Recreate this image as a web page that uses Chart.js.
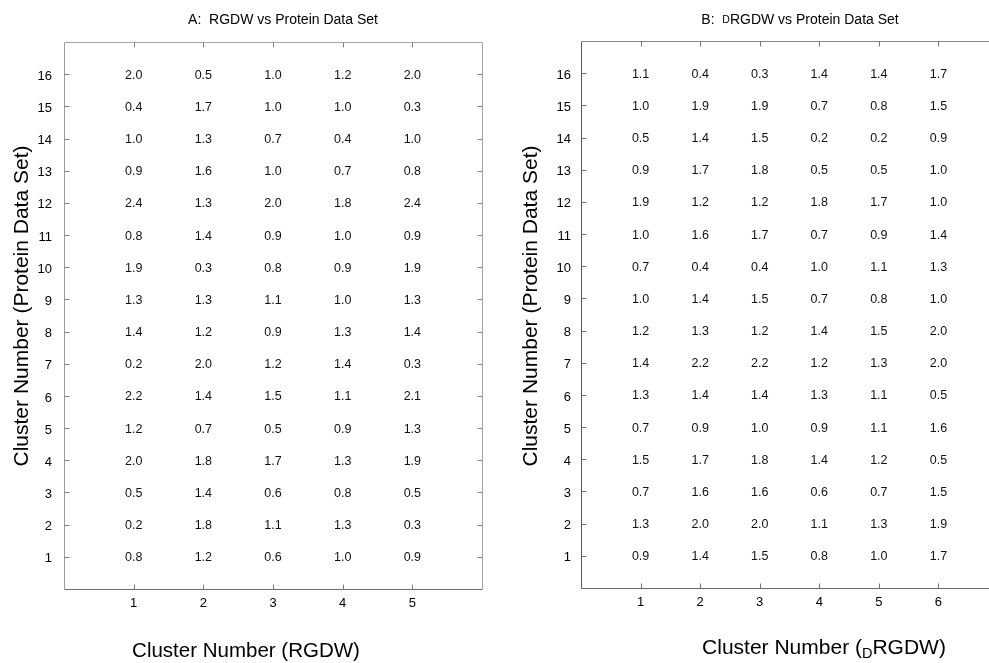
<!DOCTYPE html>
<html>
<head>
<meta charset="utf-8">
<title>RGDW / DRGDW vs Protein Data Set</title>
<script src="https://cdn.jsdelivr.net/npm/chart.js@4.4.1/dist/chart.umd.min.js"></script>
<style>
  html, body { margin: 0; padding: 0; background: #fff; overflow: hidden; }
  body { width: 989px; height: 663px; position: relative; }
  canvas { position: absolute; top: 0; }
  #chartA { left: 0; }
  #chartB { left: 500px; }
</style>
</head>
<body>
<canvas id="chartA" width="495" height="663"></canvas>
<canvas id="chartB" width="520" height="663"></canvas>
<script>
// ---------- data ----------
// protein data set cluster numbers (rows, bottom to top)
const proteinClusters = [1, 2, 3, 4, 5, 6, 7, 8, 9, 10, 11, 12, 13, 14, 15, 16];

// A: RGDW clusters (columns), values for protein clusters 1..16
const rgdwClusters = [1, 2, 3, 4, 5];
const rgdw1 = [0.8, 0.2, 0.5, 2.0, 1.2, 2.2, 0.2, 1.4, 1.3, 1.9, 0.8, 2.4, 0.9, 1.0, 0.4, 2.0];
const rgdw2 = [1.2, 1.8, 1.4, 1.8, 0.7, 1.4, 2.0, 1.2, 1.3, 0.3, 1.4, 1.3, 1.6, 1.3, 1.7, 0.5];
const rgdw3 = [0.6, 1.1, 0.6, 1.7, 0.5, 1.5, 1.2, 0.9, 1.1, 0.8, 0.9, 2.0, 1.0, 0.7, 1.0, 1.0];
const rgdw4 = [1.0, 1.3, 0.8, 1.3, 0.9, 1.1, 1.4, 1.3, 1.0, 0.9, 1.0, 1.8, 0.7, 0.4, 1.0, 1.2];
const rgdw5 = [0.9, 0.3, 0.5, 1.9, 1.3, 2.1, 0.3, 1.4, 1.3, 1.9, 0.9, 2.4, 0.8, 1.0, 0.3, 2.0];

// B: dRGDW clusters (columns), values for protein clusters 1..16
const drgdwClusters = [1, 2, 3, 4, 5, 6];
const drgdw1 = [0.9, 1.3, 0.7, 1.5, 0.7, 1.3, 1.4, 1.2, 1.0, 0.7, 1.0, 1.9, 0.9, 0.5, 1.0, 1.1];
const drgdw2 = [1.4, 2.0, 1.6, 1.7, 0.9, 1.4, 2.2, 1.3, 1.4, 0.4, 1.6, 1.2, 1.7, 1.4, 1.9, 0.4];
const drgdw3 = [1.5, 2.0, 1.6, 1.8, 1.0, 1.4, 2.2, 1.2, 1.5, 0.4, 1.7, 1.2, 1.8, 1.5, 1.9, 0.3];
const drgdw4 = [0.8, 1.1, 0.6, 1.4, 0.9, 1.3, 1.2, 1.4, 0.7, 1.0, 0.7, 1.8, 0.5, 0.2, 0.7, 1.4];
const drgdw5 = [1.0, 1.3, 0.7, 1.2, 1.1, 1.1, 1.3, 1.5, 0.8, 1.1, 0.9, 1.7, 0.5, 0.2, 0.8, 1.4];
const drgdw6 = [1.7, 1.9, 1.5, 0.5, 1.6, 0.5, 2.0, 2.0, 1.0, 1.3, 1.4, 1.0, 1.0, 0.9, 1.5, 1.7];

const FONT = "'Liberation Sans', Arial, Helvetica, sans-serif";

// ---------- helpers ----------
function buildCells(cols, series) {
  const pts = [];
  cols.forEach((c, ci) => {
    proteinClusters.forEach((r, ri) => {
      pts.push({ x: c, y: r, v: series[ci][ri] });
    });
  });
  return pts;
}

// draw a run of text pieces, each with its own size and baseline shift
function drawPieces(ctx, pieces, cx, cy, rotate) {
  ctx.save();
  ctx.translate(cx, cy);
  if (rotate) ctx.rotate(-Math.PI / 2);
  let total = 0;
  pieces.forEach(p => { ctx.font = `${p.size}px ${FONT}`; p.w = ctx.measureText(p.text).width; total += p.w; });
  let x = -total / 2;
  ctx.fillStyle = '#000';
  ctx.textBaseline = 'middle';
  ctx.textAlign = 'left';
  pieces.forEach(p => {
    ctx.font = `${p.size}px ${FONT}`;
    ctx.fillText(p.text, x, p.dy || 0);
    x += p.w;
  });
  ctx.restore();
}

// ---------- plugins ----------
const cellText = {
  id: 'cellText',
  afterDatasetsDraw(chart) {
    const ctx = chart.ctx;
    ctx.save();
    ctx.font = `12.5px ${FONT}`;
    ctx.fillStyle = '#111';
    ctx.textAlign = 'center';
    ctx.textBaseline = 'middle';
    chart.data.datasets.forEach((ds, di) => {
      const meta = chart.getDatasetMeta(di);
      meta.data.forEach((el, i) => {
        ctx.fillText(ds.data[i].v.toFixed(1), el.x, el.y + 1);
      });
    });
    ctx.restore();
  }
};

const frame = {
  id: 'frame',
  afterDraw(chart, args, opts) {
    const { ctx, chartArea: a, scales } = chart;
    const xs = scales.x.ticks.map(t => scales.x.getPixelForValue(t.value));
    const ys = scales.y.ticks.map(t => scales.y.getPixelForValue(t.value));
    const tl = 5;
    ctx.save();
    ctx.lineWidth = 1;
    const line = (x1, y1, x2, y2, col) => {
      ctx.strokeStyle = col;
      ctx.beginPath();
      ctx.moveTo(Math.round(x1) + 0.5, Math.round(y1) + 0.5);
      ctx.lineTo(Math.round(x2) + 0.5, Math.round(y2) + 0.5);
      ctx.stroke();
    };
    // box sides
    line(a.left, a.top, a.left, a.bottom, opts.left);
    line(a.left, a.bottom, a.right, a.bottom, opts.bottom);
    line(a.left, a.top, a.right, a.top, opts.top);
    if (opts.right) line(a.right, a.top, a.right, a.bottom, opts.right);
    // inward tick marks
    ys.forEach(y => {
      line(a.left, y, a.left + tl, y, opts.tick);
      if (opts.right) line(a.right - tl, y, a.right, y, opts.tick);
    });
    xs.forEach(x => {
      line(x, a.bottom, x, a.bottom - tl, opts.tick);
      line(x, a.top, x, a.top + tl, opts.tick);
    });
    ctx.restore();
  }
};

const labels = {
  id: 'labels',
  afterDraw(chart, args, opts) {
    const ctx = chart.ctx;
    drawPieces(ctx, opts.title, opts.titleX, opts.titleY, false);
    drawPieces(ctx, opts.xTitle, opts.xTitleX, opts.xTitleY, false);
    drawPieces(ctx, opts.yTitle, opts.yTitleX, opts.yTitleY, true);
  }
};

function makeChart(id, cols, series, geom, plugOpts) {
  return new Chart(document.getElementById(id), {
    type: 'scatter',
    data: {
      datasets: [{ data: buildCells(cols, series), pointRadius: 0, pointHoverRadius: 0 }]
    },
    options: {
      responsive: false,
      animation: false,
      devicePixelRatio: 1,
      events: [],
      layout: { padding: { top: geom.top, right: geom.right, left: 0, bottom: 0 } },
      plugins: {
        legend: { display: false },
        tooltip: { enabled: false },
        frame: plugOpts.frame,
        labels: plugOpts.labels
      },
      scales: {
        x: {
          type: 'linear',
          min: 0,
          max: geom.xMax,
          grid: { display: false, drawTicks: false },
          border: { display: false },
          afterBuildTicks: s => { s.ticks = cols.map(v => ({ value: v })); },
          afterFit: s => { s.height = geom.xHeight; },
          ticks: { color: '#000', font: { family: FONT, size: 13 }, padding: 7 }
        },
        y: {
          type: 'linear',
          min: 0,
          max: 17,
          grid: { display: false, drawTicks: false },
          border: { display: false },
          afterBuildTicks: s => { s.ticks = proteinClusters.map(v => ({ value: v })); },
          afterFit: s => { s.width = geom.yWidth; },
          ticks: { color: '#000', font: { family: FONT, size: 13 }, padding: geom.yPad, labelOffset: 2 }
        }
      }
    },
    plugins: [cellText, frame, labels]
  });
}

// ---------- charts ----------
const yTitlePieces = [{ text: 'Cluster Number (Protein Data Set)', size: 21 }];

makeChart('chartA', rgdwClusters, [rgdw1, rgdw2, rgdw3, rgdw4, rgdw5],
  { top: 42, right: 13, xMax: 6, xHeight: 74, yWidth: 64, yPad: 12 },
  {
    frame: { left: '#9c9c9c', bottom: '#6e6e6e', top: '#a4a4a4', right: '#a4a4a4', tick: '#808080' },
    labels: {
      title: [{ text: 'A:  RGDW vs Protein Data Set', size: 14 }],
      titleX: 283, titleY: 20,
      xTitle: [{ text: 'Cluster Number (RGDW)', size: 20.5 }],
      xTitleX: 246, xTitleY: 651,
      yTitle: yTitlePieces,
      yTitleX: 22, yTitleY: 306
    }
  });

makeChart('chartB', drgdwClusters, [drgdw1, drgdw2, drgdw3, drgdw4, drgdw5, drgdw6],
  { top: 41, right: 22, xMax: 7, xHeight: 75, yWidth: 81, yPad: 10 },
  {
    frame: { left: '#5a5a5a', bottom: '#6a6a6a', top: '#8a8a8a', right: null, tick: '#707070' },
    labels: {
      title: [
        { text: 'B:  ', size: 14 },
        { text: 'D', size: 10.5 },
        { text: 'RGDW vs Protein Data Set', size: 14 }
      ],
      titleX: 300, titleY: 20,
      xTitle: [
        { text: 'Cluster Number (', size: 21 },
        { text: 'D', size: 14.5, dy: 6 },
        { text: 'RGDW)', size: 21 }
      ],
      xTitleX: 324, xTitleY: 648,
      yTitle: yTitlePieces,
      yTitleX: 31, yTitleY: 306
    }
  });
</script>
</body>
</html>
